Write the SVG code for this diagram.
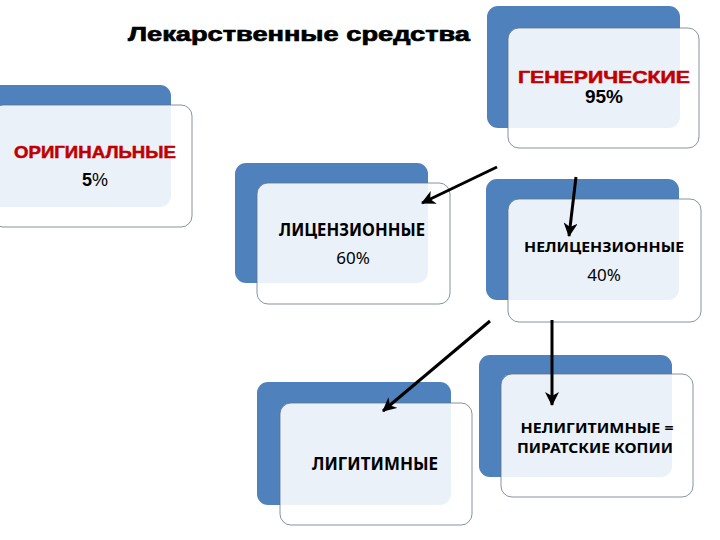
<svg xmlns="http://www.w3.org/2000/svg" width="720" height="540" viewBox="0 0 720 540">
<defs>
<style>
.back{fill:#4f81bd;}
.front{fill:#ffffff;fill-opacity:0.89;stroke:#5f6f80;stroke-opacity:0.75;stroke-width:1;}
.ar{font-family:"Liberation Sans",Arial,sans-serif;font-weight:bold;text-anchor:middle;}
.heavy{stroke:#000;stroke-width:0.7;}
.red{fill:#c00000;stroke:#c00000;stroke-width:0.5;}
.cal{font-family:"Noto Sans","Open Sans",sans-serif;fill:#000;text-anchor:middle;}
.conn{stroke:#000;stroke-width:3;fill:none;marker-end:url(#ah);}
</style>
<marker id="ah" markerUnits="userSpaceOnUse" markerWidth="16" markerHeight="14" refX="13" refY="7" orient="auto">
<path d="M0,0 L14,7 L0,14 L4,7 Z" fill="#000"/>
</marker>
</defs>
<rect width="720" height="540" fill="#ffffff"/>
<text class="ar heavy" x="299" y="41" font-size="21" textLength="342" lengthAdjust="spacingAndGlyphs">Лекарственные средства</text>

<g id="generic">
<rect class="back" x="487" y="6" width="193" height="122" rx="11"/>
<rect class="front" x="508" y="28" width="191" height="120" rx="11"/>
<text class="ar red" x="604" y="83" font-size="16.5" textLength="172" lengthAdjust="spacingAndGlyphs">ГЕНЕРИЧЕСКИЕ</text>
<text class="ar" x="604" y="103" font-size="19">95%</text>
</g>

<g id="original">
<rect class="back" x="-10" y="85" width="181" height="122" rx="11"/>
<rect class="front" x="-8" y="105" width="200" height="122" rx="11"/>
<text class="ar red" x="95" y="158" font-size="16.5" textLength="162" lengthAdjust="spacingAndGlyphs">ОРИГИНАЛЬНЫЕ</text>
<text class="ar" x="95" y="186" font-size="18"><tspan>5</tspan><tspan font-weight="normal">%</tspan></text>
</g>

<g id="licensed">
<rect class="back" x="235" y="163" width="193" height="120" rx="11"/>
<rect class="front" x="257" y="183" width="193" height="121" rx="11"/>
<text class="cal" x="352" y="236" font-size="18" font-weight="bold" textLength="146" lengthAdjust="spacingAndGlyphs">ЛИЦЕНЗИОННЫЕ</text>
<text class="cal" x="353" y="264" font-size="17">60%</text>
</g>

<g id="unlicensed">
<rect class="back" x="486" y="179" width="193" height="121" rx="11"/>
<rect class="front" x="508" y="199" width="193" height="123" rx="11"/>
<text class="cal" x="604" y="252" font-size="15" font-weight="bold" textLength="160" lengthAdjust="spacingAndGlyphs">НЕЛИЦЕНЗИОННЫЕ</text>
<text class="cal" x="604" y="281" font-size="17">40%</text>
</g>

<g id="legitimate">
<rect class="back" x="257" y="382" width="194" height="123" rx="11"/>
<rect class="front" x="280" y="403" width="192" height="122" rx="11"/>
<text class="cal" x="375" y="470" font-size="17" font-weight="bold" textLength="126" lengthAdjust="spacingAndGlyphs">ЛИГИТИМНЫЕ</text>
</g>

<g id="illegitimate">
<rect class="back" x="479" y="355" width="193" height="122" rx="11"/>
<rect class="front" x="501" y="374" width="192" height="123" rx="11"/>
<text class="cal" x="597" y="433" font-size="15" font-weight="bold" textLength="153" lengthAdjust="spacingAndGlyphs">НЕЛИГИТИМНЫЕ =</text>
<text class="cal" x="595" y="453" font-size="15" font-weight="bold" textLength="156" lengthAdjust="spacingAndGlyphs">ПИРАТСКИЕ КОПИИ</text>
</g>

<g id="connectors">
<line class="conn" x1="497" y1="167" x2="422" y2="203"/>
<line class="conn" x1="576" y1="177" x2="569" y2="236"/>
<line class="conn" x1="490" y1="321" x2="383" y2="411"/>
<line class="conn" x1="552" y1="320" x2="552" y2="405"/>
</g>
</svg>
